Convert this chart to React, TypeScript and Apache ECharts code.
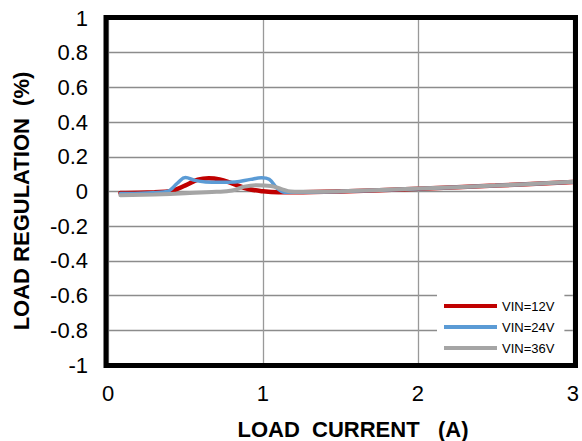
import React, { useEffect, useRef } from "react";
import * as echarts from "echarts";

const xTicks = [0, 1, 2, 3];
const yTicks = [-1, -0.8, -0.6, -0.4, -0.2, 0, 0.2, 0.4, 0.6, 0.8, 1];

const seriesNames = ["VIN=12V", "VIN=24V", "VIN=36V"];
const seriesColors = ["#C00000", "#5B9BD5", "#A5A5A5"];

const vin12: [number, number][] = [
  [0.08, -0.008], [0.2, -0.007], [0.3, -0.004], [0.4, 0.002], [0.5, 0.035],
  [0.58, 0.068], [0.65, 0.077], [0.72, 0.07], [0.8, 0.047], [0.9, 0.016],
  [1.0, 0.001], [1.1, -0.005], [1.2, -0.005], [1.5, 0.0], [2.0, 0.016],
  [2.5, 0.034], [3.0, 0.055],
];
const vin24: [number, number][] = [
  [0.08, -0.012], [0.25, -0.008], [0.38, 0.0], [0.45, 0.05], [0.5, 0.08],
  [0.56, 0.064], [0.63, 0.055], [0.72, 0.053], [0.82, 0.055], [0.92, 0.07],
  [0.99, 0.079], [1.04, 0.07], [1.09, 0.02], [1.14, -0.004], [1.25, -0.004],
  [1.5, 0.0], [2.0, 0.016], [2.5, 0.034], [3.0, 0.055],
];
const vin36: [number, number][] = [
  [0.08, -0.022], [0.3, -0.017], [0.5, -0.01], [0.7, -0.002], [0.8, 0.006],
  [0.88, 0.028], [0.96, 0.036], [1.05, 0.032], [1.12, 0.014], [1.18, 0.0],
  [1.3, -0.002], [1.5, 0.001], [2.0, 0.017], [2.5, 0.034], [3.0, 0.056],
];

const seriesData = [vin12, vin24, vin36];
const lineWidths = [4.5, 3.5, 4];

const FONT = "'Liberation Sans', Arial, sans-serif";

export default function App() {
  const ref = useRef<HTMLDivElement>(null);

  useEffect(() => {
    if (!ref.current) return;
    const chart = echarts.init(ref.current, undefined, { renderer: "svg" });
    const gridLeft = 108;
    const gridTop = 18;
    const gridW = 467;
    const gridH = 347;
    chart.setOption({
      animation: false,
      backgroundColor: "#ffffff",
      grid: {
        left: gridLeft,
        top: gridTop,
        width: gridW,
        height: gridH,
        show: false,
      },
      xAxis: {
        type: "value",
        min: xTicks[0],
        max: xTicks[xTicks.length - 1],
        interval: 1,
        axisLine: { show: false },
        axisTick: { show: false },
        splitLine: { show: true, lineStyle: { color: "#999999", width: 1.3 } },
        axisLabel: {
          color: "#000",
          fontFamily: FONT,
          fontSize: 22,
          margin: 17,
        },
      },
      yAxis: {
        type: "value",
        min: yTicks[0],
        max: yTicks[yTicks.length - 1],
        interval: 0.2,
        axisLine: { show: false },
        axisTick: { show: false },
        splitLine: { show: true, lineStyle: { color: "#8c8c8c", width: 1.3 } },
        axisLabel: {
          color: "#000",
          fontFamily: FONT,
          fontSize: 22,
          margin: 20,
        },
      },
      legend: {
        orient: "vertical",
        left: 437,
        top: 293,
        padding: [6, 10, 6, 7],
        backgroundColor: "#ffffff",
        itemWidth: 53,
        itemHeight: 4,
        itemGap: 7,
        textStyle: {
          color: "#000",
          fontFamily: FONT,
          fontSize: 13,
          lineHeight: 14,
        },
        data: seriesNames.map((n) => ({ name: n, icon: "rect" })),
      },
      series: seriesNames.map((name, i) => ({
        name,
        type: "line",
        data: seriesData[i],
        smooth: 0.4,
        showSymbol: false,
        symbol: "none",
        color: seriesColors[i],
        lineStyle: { color: seriesColors[i], width: lineWidths[i], cap: "round" },
        z: 2 + i,
      })),
      graphic: [
        {
          type: "rect",
          z: 100,
          shape: { x: 106, y: 17.5, width: 469.5, height: 348 },
          style: { fill: "none", stroke: "#000", lineWidth: 5 },
        },
        {
          type: "text",
          z: 100,
          x: 353,
          y: 429,
          style: {
            text: "LOAD  CURRENT   (A)",
            fontFamily: FONT,
            fontSize: 22,
            fontWeight: "bold",
            fill: "#000",
            align: "center",
            verticalAlign: "middle",
          },
        },
        {
          type: "text",
          z: 100,
          x: 21,
          y: 201,
          rotation: Math.PI / 2,
          style: {
            text: "LOAD REGULATION  (%)",
            fontFamily: FONT,
            fontSize: 22,
            fontWeight: "bold",
            fill: "#000",
            align: "center",
            verticalAlign: "middle",
          },
        },
      ],
    });
    return () => chart.dispose();
  }, []);

  return (
    <div
      ref={ref}
      style={{ position: "fixed", left: 0, top: 0, width: 582, height: 441 }}
    />
  );
}
